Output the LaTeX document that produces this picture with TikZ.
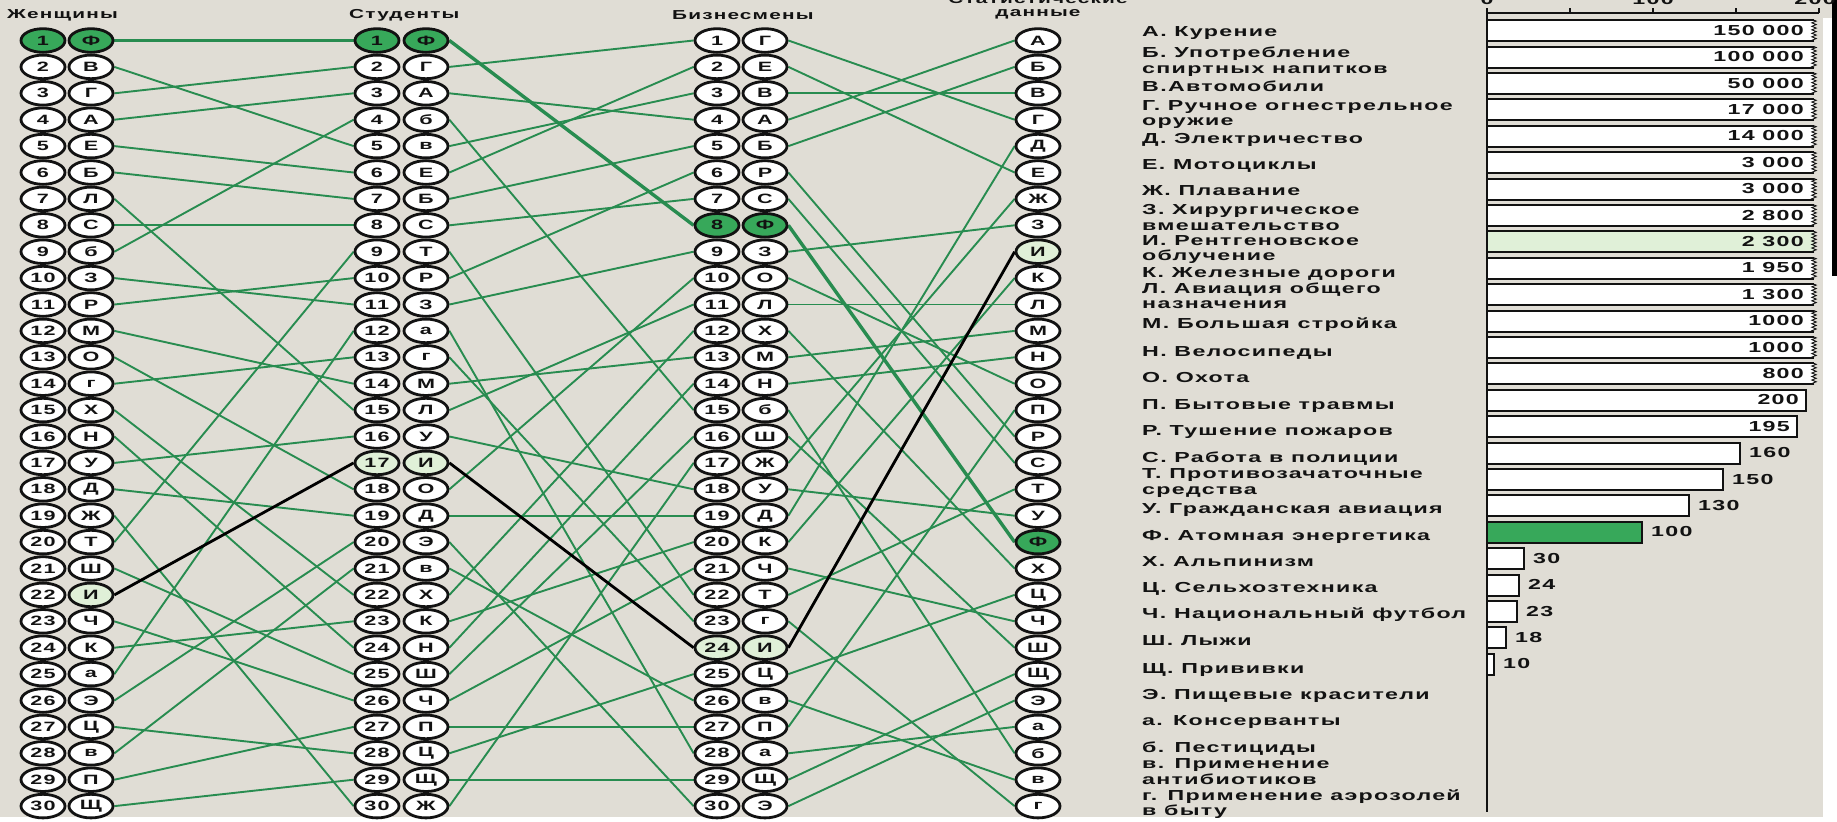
\documentclass[tikz,border=0pt]{standalone}
\usepackage{fontspec}
\setmainfont{Liberation Sans}[FakeStretch=1.6,LetterSpace=9]
\usetikzlibrary{shapes.geometric,decorations.pathmorphing}
\definecolor{bgc}{RGB}{224,221,213}
\definecolor{lgreen}{RGB}{40,140,80}
\definecolor{fgreen}{RGB}{55,168,90}
\definecolor{pgreen}{RGB}{224,240,216}
\definecolor{ink}{RGB}{18,18,18}
\newcommand\cellfont{\fontsize{13.5}{15}\bfseries\selectfont}
\newcommand\labfont{\fontsize{14.5}{16}\bfseries\selectfont}
\newcommand\headfont{\fontsize{13}{15}\bfseries\selectfont}
\pgfdeclarelayer{back}
\pgfdeclarelayer{wires}
\pgfsetlayers{back,wires,main}
\begin{document}
\begin{tikzpicture}[x=1pt,y=-1pt,
  cell/.style={ellipse,draw=ink,line width=2.8pt,fill=white,minimum width=44pt,minimum height=23.6pt,inner sep=0pt,font=\cellfont,text=ink},
  link/.style={draw=lgreen,line width=1.9pt},
  flink/.style={draw=lgreen,line width=3.4pt},
  ilink/.style={draw=black,line width=2.8pt},
  head/.style={font=\headfont,text=ink,inner sep=0pt},
  lab/.style={font=\labfont,text=ink,inner sep=0pt,anchor=base west},
  val/.style={font=\labfont,text=ink,inner sep=0pt},
  barline/.style={draw=ink,line width=1.9pt},
  zig/.style={draw=ink,line width=0.9pt,decorate,decoration={zigzag,segment length=3.5pt,amplitude=2.2pt}}]
\useasboundingbox (0,0) rectangle (1837,822);
\begin{pgfonlayer}{back}
\fill[bgc] (0,0) rectangle (1837,822);
\fill[white] (1823,18) rectangle (1837,822);
\fill[white] (0,817) rectangle (1837,822);
\fill[black] (1832,0) rectangle (1837,276);
\end{pgfonlayer}

% headings
\node[head,anchor=west] (hw) at (7,15) {Женщины};
\node[head,anchor=west] (hs) at (349,15) {Студенты};
\node[head,anchor=west] (hb) at (672,15) {Бизнесмены};
\node[head] (ht1) at (1038,-1) {Статистические};
\node[head] (ht2) at (1038,14) {данные};

% women
\foreach \i/\L/\fa/\fb in {1/Ф/fgreen/fgreen,2/В/white/white,3/Г/white/white,4/А/white/white,5/Е/white/white,6/Б/white/white,7/Л/white/white,8/С/white/white,9/б/white/white,10/З/white/white,11/Р/white/white,12/М/white/white,13/О/white/white,14/г/white/white,15/Х/white/white,16/Н/white/white,17/У/white/white,18/Д/white/white,19/Ж/white/white,20/Т/white/white,21/Ш/white/white,22/И/white/pgreen,23/Ч/white/white,24/К/white/white,25/а/white/white,26/Э/white/white,27/Ц/white/white,28/в/white/white,29/П/white/white,30/Щ/white/white}{
  \pgfmathsetmacro\yy{40.5+(\i-1)*26.4}
  \node[cell,fill=\fa] (wn\i) at (43,\yy) {\i};
  \node[cell,fill=\fb] (wl\i) at (91,\yy) {\L};
}
% students
\foreach \i/\L/\fa/\fb in {1/Ф/fgreen/fgreen,2/Г/white/white,3/А/white/white,4/б/white/white,5/в/white/white,6/Е/white/white,7/Б/white/white,8/С/white/white,9/Т/white/white,10/Р/white/white,11/З/white/white,12/а/white/white,13/г/white/white,14/М/white/white,15/Л/white/white,16/У/white/white,17/И/pgreen/pgreen,18/О/white/white,19/Д/white/white,20/Э/white/white,21/в/white/white,22/Х/white/white,23/К/white/white,24/Н/white/white,25/Ш/white/white,26/Ч/white/white,27/П/white/white,28/Ц/white/white,29/Щ/white/white,30/Ж/white/white}{
  \pgfmathsetmacro\yy{40.5+(\i-1)*26.4}
  \node[cell,fill=\fa] (sn\i) at (377,\yy) {\i};
  \node[cell,fill=\fb] (sl\i) at (426,\yy) {\L};
}
% businessmen
\foreach \i/\L/\fa/\fb in {1/Г/white/white,2/Е/white/white,3/В/white/white,4/А/white/white,5/Б/white/white,6/Р/white/white,7/С/white/white,8/Ф/fgreen/fgreen,9/З/white/white,10/О/white/white,11/Л/white/white,12/Х/white/white,13/М/white/white,14/Н/white/white,15/б/white/white,16/Ш/white/white,17/Ж/white/white,18/У/white/white,19/Д/white/white,20/К/white/white,21/Ч/white/white,22/Т/white/white,23/г/white/white,24/И/pgreen/pgreen,25/Ц/white/white,26/в/white/white,27/П/white/white,28/а/white/white,29/Щ/white/white,30/Э/white/white}{
  \pgfmathsetmacro\yy{40.5+(\i-1)*26.4}
  \node[cell,fill=\fa] (bn\i) at (717,\yy) {\i};
  \node[cell,fill=\fb] (bl\i) at (765,\yy) {\L};
}
% statistics
\foreach \i/\L/\fa in {1/А/white,2/Б/white,3/В/white,4/Г/white,5/Д/white,6/Е/white,7/Ж/white,8/З/white,9/И/pgreen,10/К/white,11/Л/white,12/М/white,13/Н/white,14/О/white,15/П/white,16/Р/white,17/С/white,18/Т/white,19/У/white,20/Ф/fgreen,21/Х/white,22/Ц/white,23/Ч/white,24/Ш/white,25/Щ/white,26/Э/white,27/а/white,28/б/white,29/в/white,30/г/white}{
  \pgfmathsetmacro\yy{40.5+(\i-1)*26.4}
  \node[cell,fill=\fa] (t\i) at (1038,\yy) {\L};
}

% connectors
\begin{pgfonlayer}{wires}
\foreach \a/\b in {2/5,3/2,4/3,5/6,6/7,7/15,8/8,9/4,10/11,11/10,12/14,13/18,14/13,15/22,16/24,17/16,18/19,19/30,20/9,21/25,23/26,24/23,25/12,26/20,27/28,28/21,29/27,30/29}
  \draw[link] (wl\a.east) -- (sn\b.west);
\foreach \a/\b in {2/1,3/4,4/15,5/3,6/2,7/5,8/7,9/22,10/6,11/9,12/28,13/23,14/13,15/11,16/18,18/10,19/19,20/30,21/26,22/12,23/20,24/14,25/16,26/21,27/27,28/25,29/29,30/17}
  \draw[link] (sl\a.east) -- (bn\b.west);
\foreach \a/\b in {1/4,2/6,3/3,4/1,5/2,6/16,7/17,9/8,10/14,11/11,12/21,13/12,14/13,15/28,16/24,17/7,18/19,19/5,20/10,21/23,22/18,23/30,25/22,26/29,27/15,28/27,29/25,30/26}
  \draw[link] (bl\a.east) -- (t\b.west);
\draw[flink] (wl1.east) -- (sn1.west);
\draw[flink] (sl1.east) -- (bn8.west);
\draw[flink] (bl8.east) -- (t20.west);
\draw[ilink] (wl22.east) -- (sn17.west);
\draw[ilink] (sl17.east) -- (bn24.west);
\draw[ilink] (bl24.east) -- (t9.west);
\end{pgfonlayer}

% chart labels
\foreach \yy/\T in {32/А. Курение,53/Б. Употребление,69/спиртных напитков,87/В.Автомобили,106/Г. Ручное огнестрельное,121/оружие,139/Д. Электричество,165/Е. Мотоциклы,191/Ж. Плавание,210/З. Хирургическое,226/вмешательство,241/И. Рентгеновское,256/облучение,273/К. Железные дороги,289/Л. Авиация общего,304/назначения,324/М. Большая стройка,352/Н. Велосипеды,378/О. Охота,405/П. Бытовые травмы,431/Р. Тушение пожаров,458/С. Работа в полиции,474/Т. Противозачаточные,490/средства,509/У. Гражданская авиация,536/Ф. Атомная энергетика,562/Х. Альпинизм,588/Ц. Сельхозтехника,614/Ч. Национальный футбол,641/Ш. Лыжи,669/Щ. Прививки,695/Э. Пищевые красители,721/а. Консерванты,748/б. Пестициды,764/в. Применение,780/антибиотиков,796/г. Применение аэрозолей,811/в быту}
  \node[lab] at (1142,\yy+4.5) {\T};

% axis
\draw[barline] (1487,13) -- (1819,13);
\foreach \xx in {1487,1570,1653,1736,1819}
  \draw[barline,line width=1.2pt] (\xx,13) -- (\xx,8);
\node[val,anchor=base] (a0) at (1487,4) {0};
\node[val,anchor=base] (a1) at (1653,4) {100};
\node[val,anchor=base] (a2) at (1815,4) {200};
\draw[barline] (1487,12) -- (1487,812);

% broken bars
\foreach \i/\v/\fc in {1/150 000/white,2/100 000/white,3/50 000/white,4/17 000/white,5/14 000/white,6/3 000/white,7/3 000/white,8/2 800/white,9/2 300/pgreen,10/1 950/white,11/1 300/white,12/1000/white,13/1000/white,14/800/white}{
  \pgfmathsetmacro\yc{30.7+(\i-1)*26.4}
  \fill[\fc] (1487,\yc-10.5) rectangle (1814,\yc+10.5);
  \draw[barline] (1814,\yc-10.5) -- (1487,\yc-10.5) -- (1487,\yc+10.5) -- (1814,\yc+10.5);
  \draw[zig] (1814,\yc-10.5) -- (1814,\yc+10.5);
  \node[val,anchor=base east] at (1804,\yc+4.5) {\v};
}
% bars with value inside
\foreach \i/\w/\v in {15/319/200,16/310/195}{
  \pgfmathsetmacro\yc{30.7+(\i-1)*26.4}
  \draw[barline,fill=white] (1487,\yc-10.5) rectangle (1487+\w,\yc+10.5);
  \node[val,anchor=base east] at (1487+\w-7,\yc+4.5) {\v};
}
% bars with value outside
\foreach \i/\w/\v/\fc in {17/253/160/white,18/236/150/white,19/202/130/white,20/155/100/fgreen,21/37/30/white,22/32/24/white,23/30/23/white,24/19/18/white,25/7/10/white}{
  \pgfmathsetmacro\yc{30.7+(\i-1)*26.4}
  \draw[barline,fill=\fc] (1487,\yc-10.5) rectangle (1487+\w,\yc+10.5);
  \node[val,anchor=base west] at (1487+\w+9,\yc+4.5) {\v};
}
\end{tikzpicture}
\end{document}
